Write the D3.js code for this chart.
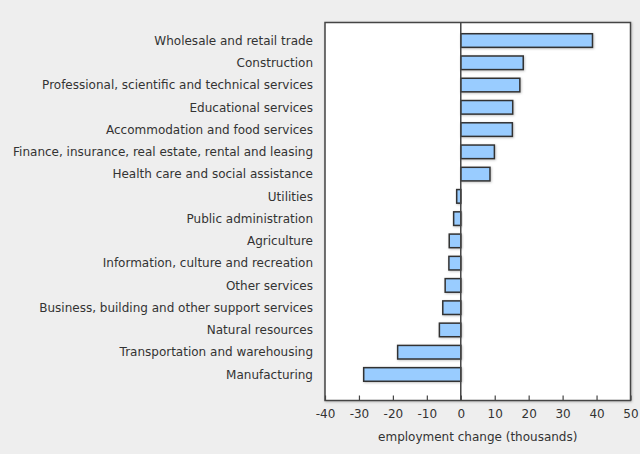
<!DOCTYPE html>
<html><head><meta charset="utf-8">
<script src="https://cdn.jsdelivr.net/npm/d3@7/dist/d3.min.js"></script>
<style>
html,body{margin:0;padding:0;background:#eeeeee;}
svg{display:block;}
text{font-family:"DejaVu Sans",Verdana,sans-serif;fill:#333;}
</style></head>
<body>
<svg id="c" width="640" height="454"></svg>
<script>
const categories = ["Wholesale and retail trade","Construction","Professional, scientific and technical services","Educational services","Accommodation and food services","Finance, insurance, real estate, rental and leasing","Health care and social assistance","Utilities","Public administration","Agriculture","Information, culture and recreation","Other services","Business, building and other support services","Natural resources","Transportation and warehousing","Manufacturing"];
const values = [38.8,18.4,17.4,15.3,15.2,9.9,8.6,-1.2,-2.1,-3.4,-3.5,-4.6,-5.3,-6.3,-18.6,-28.6];
const xTicks = [-40,-30,-20,-10,0,10,20,30,40,50];
const axisTitle = "employment change (thousands)";

const svg = d3.select("#c");
const L = 325, R = 630.5, T = 22.5, B = 400.5;
const x = d3.scaleLinear().domain([-40,50]).range([L,R]);
const y = d3.scaleBand().domain(categories).range([29.4,385.6]).paddingInner(0.39).paddingOuter(0.195);

const defs = svg.append("defs");
const f = defs.append("filter").attr("id","sh").attr("x","-20%").attr("y","-50%").attr("width","140%").attr("height","200%");
f.append("feDropShadow").attr("dx",0.8).attr("dy",0.8).attr("stdDeviation",0.8).attr("flood-color","#000").attr("flood-opacity",0.25);

svg.append("rect").attr("x",L).attr("y",T).attr("width",R-L).attr("height",B-T)
  .attr("fill","#fff").attr("stroke","#444").attr("stroke-width",1.5).attr("filter","url(#sh)");

// ticks
const ax = svg.append("g").attr("transform",`translate(0,${B})`)
  .call(d3.axisBottom(x).tickValues(xTicks).tickSizeInner(-5).tickSizeOuter(0).tickPadding(9).tickFormat(d => String(d)));
ax.select(".domain").remove();
ax.selectAll(".tick line").attr("stroke","#444").attr("stroke-width",1.2);
ax.selectAll(".tick text").style("font-size","12px").style("font-family","'DejaVu Sans',Verdana,sans-serif").attr("fill","#333");

svg.append("g").selectAll("rect").data(values).join("rect")
  .attr("x",(d)=>x(Math.min(0,d)))
  .attr("y",(d,i)=>y(categories[i]))
  .attr("width",d=>Math.abs(x(d)-x(0)))
  .attr("height",y.bandwidth())
  .attr("fill","#99ccff").attr("stroke","#333").attr("stroke-width",1.5).attr("filter","url(#sh)");

svg.append("line").attr("x1",x(0)).attr("x2",x(0)).attr("y1",T).attr("y2",B).attr("stroke","#444").attr("stroke-width",1.5);

svg.append("g").selectAll("text").data(categories).join("text")
  .attr("x",313).attr("y",d=>y(d)+y.bandwidth()/2).attr("dy","0.35em")
  .attr("text-anchor","end").style("font-size","12px").text(d=>d);

svg.append("text").attr("x",(L+R)/2).attr("y",441).attr("text-anchor","middle").style("font-size","12px").text(axisTitle);
</script>
</body></html>
